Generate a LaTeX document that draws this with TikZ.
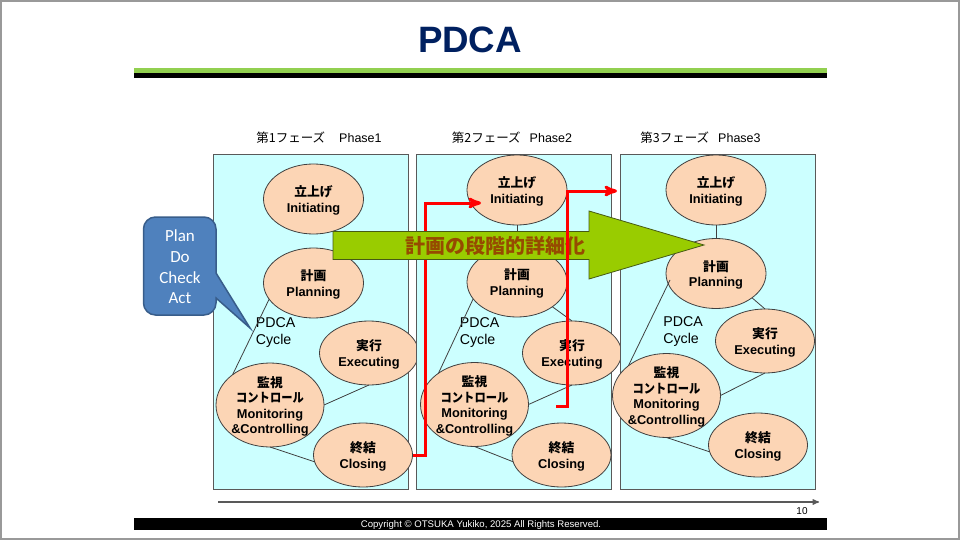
\documentclass[tikz,border=0pt]{standalone}
\usepackage{fontspec}
\setmainfont{Liberation Sans}
\newfontfamily\jp{Noto Sans CJK JP}
\newfontfamily\carl{Carlito}
\usetikzlibrary{arrows,shapes.geometric,positioning}
\definecolor{navy}{RGB}{0,32,96}
\definecolor{barGreen}{RGB}{146,208,80}
\definecolor{boxCyan}{RGB}{204,255,255}
\definecolor{peach}{RGB}{252,213,181}
\definecolor{noteBlue}{RGB}{79,129,189}
\definecolor{noteEdge}{RGB}{56,93,138}
\definecolor{leaf}{RGB}{153,204,0}
\definecolor{leafEdge}{RGB}{70,90,20}
\definecolor{rust}{RGB}{150,75,0}
\newcommand{\kana}[1]{\scalebox{.88}[1]{\jp #1}}

\begin{document}
\begin{tikzpicture}[x=1pt,y=-1pt,>=stealth',semithick]

  \tikzstyle{phase}   = [draw=black!65, fill=boxCyan, line width=1pt, outer sep=0pt,
                         minimum width=195pt, minimum height=334pt]
  \tikzstyle{stage}   = [ellipse, draw=black!75, fill=peach, line width=.8pt, inner sep=-8pt,
                         outer sep=0pt, align=center, text depth=0pt,
                         font=\fontsize{12.8}{15.5}\selectfont\bfseries]
  \tikzstyle{small}   = [stage, minimum width=100pt, minimum height=70pt]
  \tikzstyle{wide}    = [stage, minimum width=99pt, minimum height=64pt]
  \tikzstyle{big}     = [stage, minimum width=108pt, minimum height=84pt]
  \tikzstyle{head}    = [font=\fontsize{12.5}{15}\selectfont]
  \tikzstyle{cycle}   = [align=left, anchor=west, inner sep=0pt, font=\fontsize{14.2}{17}\selectfont]
  \tikzstyle{link}    = [black!75, line width=.8pt]
  \tikzstyle{redline} = [red, line width=3pt, ->]

  \useasboundingbox (0,0) rectangle (960,540);
  \node[inner sep=0pt, outer sep=0pt, draw=black!40, line width=4pt, minimum width=960pt,
        minimum height=540pt] (frame) at (480,270) {};

  \node[font=\fontsize{36.7}{40}\selectfont\bfseries, text=navy] (title) at (470,40) {PDCA};
  \fill[barGreen] (134,68.5) rectangle (827,73.5);
  \fill[black]    (134,73.5) rectangle (827,78);

  \node[head] (H1) at (319,138)   {{\jp 第1フェーズ}\hspace{14pt}Phase1};
  \node[head] (H2) at (512,138)   {{\jp 第2フェーズ}\hspace{9pt}Phase2};
  \node[head] (H3) at (700.5,138) {{\jp 第3フェーズ}\hspace{9pt}Phase3};

  \node[phase] (B1) at (310.5,322) {};
  \node[small] (I1) at (313.5,199) {{\jp 立上げ}\\Initiating};
  \node[small] (P1) [below of=I1, node distance=84pt] {{\jp 計画}\\Planning};
  \node[wide]  (E1) at (369,353)   {{\jp 実行}\\Executing};
  \node[big]   (M1) at (270,405)   {{\jp 監視}\\\kana{コントロール}\\Monitoring\\\&Controlling};
  \node[wide]  (C1) at (363,455)   {{\jp 終結}\\Closing};
  \node[cycle] (L1) at (255.5,333) {PDCA\\Cycle};

  \node[phase] (B2) at (514.25,322) {};
  \node[small] (I2) at (517,190)   {{\jp 立上げ}\\Initiating};
  \node[small] (P2) [below of=I2, node distance=92pt] {{\jp 計画}\\Planning};
  \node[wide]  (E2) at (572,353)   {{\jp 実行}\\Executing};
  \node[big]   (M2) at (474.5,404.5) {{\jp 監視}\\\kana{コントロール}\\Monitoring\\\&Controlling};
  \node[wide]  (C2) at (561.5,455) {{\jp 終結}\\Closing};
  \node[cycle] (L2) at (459.5,333) {PDCA\\Cycle};

  \node[phase] (B3) at (717.5,322) {};
  \node[small] (I3) at (716,190)   {{\jp 立上げ}\\Initiating};
  \node[small] (P3) [below of=I3, node distance=83.5pt] {{\jp 計画}\\Planning};
  \node[wide]  (E3) at (765,341)   {{\jp 実行}\\Executing};
  \node[big]   (M3) at (666.5,395.5) {{\jp 監視}\\\kana{コントロール}\\Monitoring\\\&Controlling};
  \node[wide]  (C3) at (758,445)   {{\jp 終結}\\Closing};
  \node[cycle] (L3) at (663,332)   {PDCA\\Cycle};

  \coordinate (A3) at (670,280);
  \path[link] (P1.200) edge (M1.141)
              (E1.south) edge (M1.east)
              (M1.south) edge (C1.188)
              (I2.south) edge (P2.north)
              (P2.325) edge (E2.north)
              (P2.201) edge (M2.139)
              (E2.south) edge (M2.east)
              (M2.south) edge (C2.188)
              (I3.south) edge (P3.north)
              (P3.326) edge (E3.north)
              (A3) edge (M3.142)
              (E3.south) edge (M3.east)
              (M3.south) edge (C3.188);

  \coordinate (K1) at (425,455);
  \coordinate (K2) at (425,203);
  \coordinate (T1) at (481,203);
  \draw[redline] (C1.east) -- (K1) -- (K2) -- (T1);

  \draw[draw=noteEdge, fill=noteBlue, line width=1.5pt]
    [rounded corners=12pt] (143.5,217) -- (216,217)
    [sharp corners] -- (216,273) -- (250,328) -- (216,298)
    [rounded corners=12pt] -- (216,315) -- (143.5,315) -- cycle;
  \node[align=center, text=white, font=\carl\fontsize{17}{20.7}\selectfont] (note) at (180,267)
    {Plan\\Do\\Check\\Act};

  \draw[draw=leafEdge, fill=leaf, line width=.8pt]
    (333,231.5) -- (589,231.5) -- (589,211) -- (704,245) -- (589,279) -- (589,259.5) -- (333,259.5) -- cycle;
  \node[text=rust, font=\jp\fontsize{20}{24}\selectfont\bfseries] (grow) at (495.5,246)
    {計画の段階的詳細化};

  \coordinate (S2) at (556,406);
  \coordinate (K3) at (567,406);
  \coordinate (K4) at (567,191);
  \coordinate (T2) at (617,191);
  \draw[redline] (S2) -- (K3) -- (K4) -- (T2);

  \coordinate (W0) at (218,502);
  \coordinate (W1) at (819,502);
  \draw[->, black!65, line width=1.3pt] (W0) -- (W1);
  \node[font=\fontsize{10}{12}\selectfont] (page) at (802,511) {10};

  \node[fill=black, minimum width=693pt, minimum height=12.5pt, inner sep=0pt] (foot) at (480.5,524) {};
  \node[text=white, inner sep=0pt, font=\fontsize{9.6}{11}\selectfont] (copy) at (481,525)
    {Copyright © OTSUKA Yukiko, 2025 All Rights Reserved.};
\end{tikzpicture}
\end{document}
